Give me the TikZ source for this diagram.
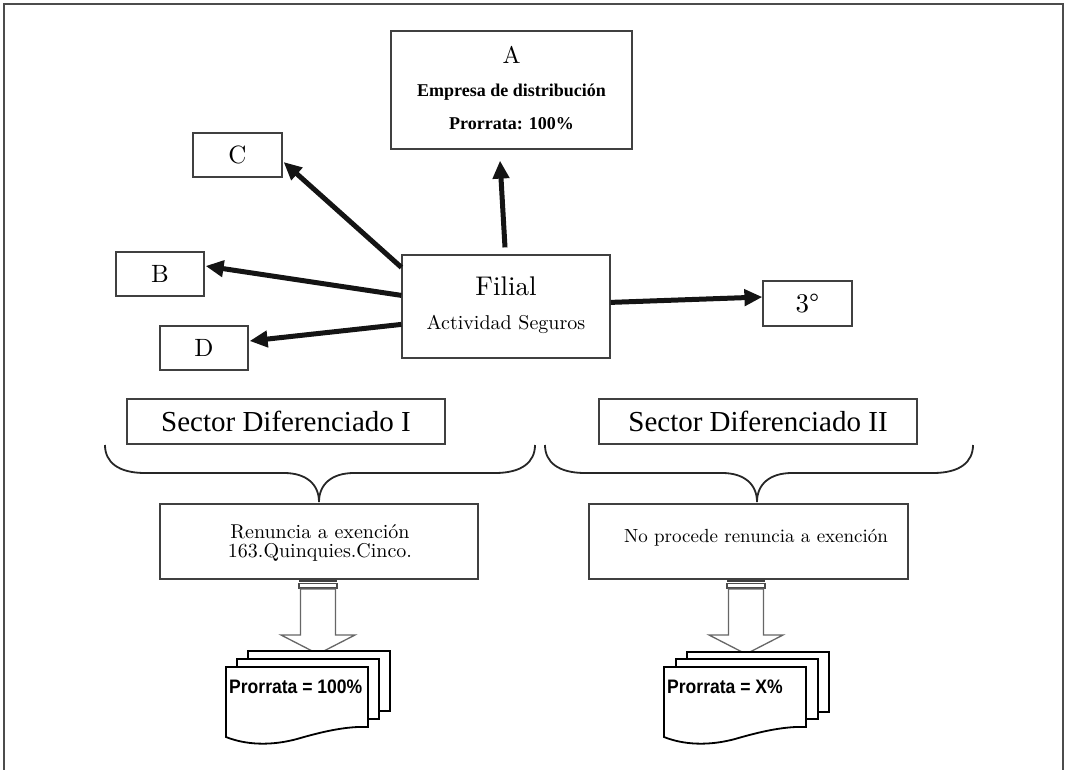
\documentclass[tikz,border=0pt]{standalone}
\usepackage{fontspec}
\usetikzlibrary{arrows.meta,calc}
\setmainfont{lmroman10-regular.otf}
\newfontfamily\timesfont{Liberation Serif}
\newfontfamily\docfont[FakeStretch=0.9]{Liberation Sans}
\newcommand{\setfs}[1]{\fontsize{#1}{#1}\selectfont}

\begin{document}
\begin{tikzpicture}[x=1pt,y=-1pt,
  box/.style={draw=black!75, line width=1.2pt, fill=white, inner sep=0pt},
  textline/.style={anchor=base, inner sep=0pt},
  bigarrow/.style={line width=5pt, black!92, -{Triangle[length=18pt,width=16pt]}},
  brace/.style={draw=black!85, line width=1.8pt},
  docline/.style={draw=black, line width=1.8pt, fill=white},
  blockarrow/.style={draw=black!60, line width=1.3pt, fill=white},
  frameline/.style={draw=black!70, line width=1.8pt},
  pics/docsheet/.style={code={
    \draw[docline] (0,0) -- (142,0) -- (142,60)
      .. controls (120,59) and (95,65) .. (71,72)
      .. controls (45,79) and (20,78) .. (0,70) -- cycle;
  }},
  pics/stripedarrow/.style={code={
    \fill[black!75] (-19,0) rectangle (19,3);
    \draw[draw=black!70, line width=1.2pt, fill=white] (-19,4.5) rectangle (19,9);
    \draw[blockarrow] (-17.5,10) -- (17.5,10) -- (17.5,56) -- (37,56)
      -- (0,75) -- (-37,56) -- (-17.5,56) -- cycle;
  }}
]
\useasboundingbox (0,0) rectangle (1065,770);

% outer frame, open at the bottom
\draw[frameline] (4,770) -- (4,4) -- (1063,4) -- (1063,770);

% company A
\node[box, minimum width=241pt, minimum height=118pt] (boxA) at (511.5,90) {};
\node[textline, font=\setfs{24}] (aName) at (511.5,64) {A};
\node[textline, font=\timesfont\bfseries\setfs{18}] (aKind) at (511.5,97) {Empresa de distribución};
\node[textline, font=\timesfont\bfseries\setfs{18}] (aRate) at (511.5,130) {Prorrata: 100\%};

% other group companies
\node[box, minimum width=89pt, minimum height=44pt, font=\setfs{25}] (nodeC) at (237.5,155) {C};
\node[box, minimum width=88pt, minimum height=44pt, font=\setfs{25}] (nodeB) at (160,274) {B};
\node[box, minimum width=88pt, minimum height=44pt, font=\setfs{25}] (nodeD) at (204,348) {D};
\node[box, minimum width=89pt, minimum height=45pt, font=\setfs{27}] (third) at (807.5,303.5) {3°};

% subsidiary
\node[box, minimum width=208pt, minimum height=103pt] (filial) at (506,306.5) {};
\node[textline, font=\setfs{27}] (filialName) at (506,295) {Filial};
\node[textline, font=\setfs{20}] (filialAct) at (506,329) {Actividad Seguros};

% connectors
\draw[bigarrow] ($(filial.north)+(-1,-7)$) -- ($(boxA.south)+(-11.5,11)$);
\draw[bigarrow] ($(filial.north west)+(0,13)$) -- ($(nodeC.east)+(1,7)$);
\draw[bigarrow] ($(filial.north west)+(0,41)$) -- ($(nodeB.east)+(1,-8)$);
\draw[bigarrow] ($(filial.north west)+(0,70)$) -- ($(nodeD.east)+(1,-7)$);
\draw[bigarrow] ($(filial.north east)+(0,48)$) -- ($(third.west)+(0,-6.5)$);

% sectors
\node[box, minimum width=318pt, minimum height=45pt, font=\timesfont\setfs{29}] (sectorI) at (286,421.5) {Sector Diferenciado I};
\node[box, minimum width=318pt, minimum height=45pt, font=\timesfont\setfs{29}] (sectorII) at (758,421.5) {Sector Diferenciado II};

% braces
\draw[brace] (105,445) .. controls (105,462) and (118,473) .. (145,473) -- (284,473)
  .. controls (306,473) and (319,484) .. (319,502)
  .. controls (319,484) and (332,473) .. (354,473) -- (495,473)
  .. controls (522,473) and (535,462) .. (535,445);
\draw[brace] (545,445) .. controls (545,462) and (558,473) .. (585,473) -- (722,473)
  .. controls (744,473) and (757,484) .. (757,502)
  .. controls (757,484) and (770,473) .. (792,473) -- (933,473)
  .. controls (960,473) and (973,462) .. (973,445);

% exemption boxes
\node[box, minimum width=318pt, minimum height=75pt] (waiver) at (319,541.5) {};
\node[textline, font=\setfs{20}] (waiverL1) at (320,538) {Renuncia a exención};
\node[textline, font=\setfs{20}] (waiverL2) at (320,557) {163.Quinquies.Cinco.};
\node[box, minimum width=319pt, minimum height=75pt] (noWaiver) at (748.5,541.5) {};
\node[textline, font=\setfs{19}] (noWaiverL) at (756,542) {No procede renuncia a exención};

% striped block arrows
\pic at ($(waiver.south)+(-1,-0.6)$) {stripedarrow};
\pic at ($(noWaiver.south)+(-2.5,-0.6)$) {stripedarrow};

% document stacks
\pic at (248,651) {docsheet};
\pic at (237,659) {docsheet};
\pic at (226,667) {docsheet};
\node[anchor=base west, inner sep=0pt, font=\docfont\bfseries\setfs{19.5}] (rateI) at (229,693) {Prorrata = 100\%};

\pic at (687,652) {docsheet};
\pic at (676,659) {docsheet};
\pic at (664,667) {docsheet};
\node[anchor=base west, inner sep=0pt, font=\docfont\bfseries\setfs{19.5}] (rateII) at (667,693) {Prorrata = X\%};
\end{tikzpicture}
\end{document}
